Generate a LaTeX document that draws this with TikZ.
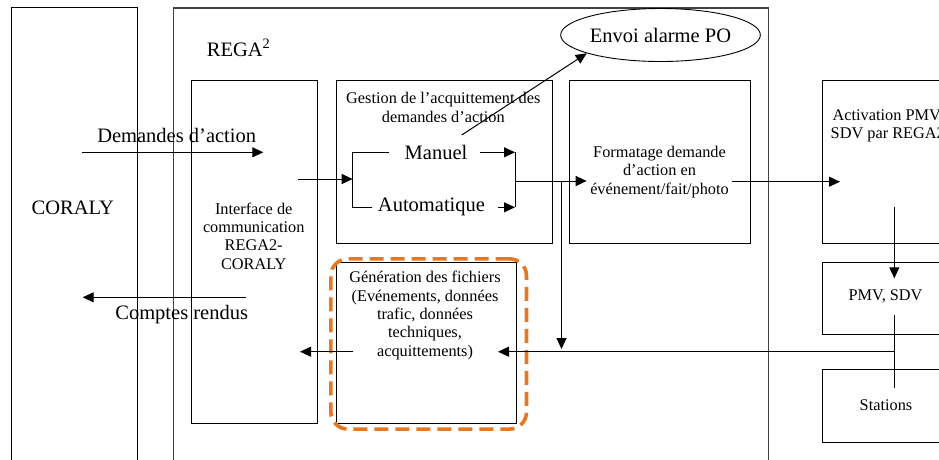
\documentclass[tikz,border=0pt]{standalone}
\usepackage{fontspec}
\setmainfont{Liberation Serif}
\usetikzlibrary{arrows.meta,shapes.geometric}
\definecolor{orangeline}{RGB}{232,119,34}
\begin{document}
\begin{tikzpicture}[x=1pt,y=-1pt,
  frame/.style={draw=black, line width=1pt, inner sep=0pt, anchor=north west},
  small/.style={font=\fontsize{16.3}{18.3}\selectfont, align=center, inner sep=0pt},
  big/.style={font=\fontsize{20.5}{24}\selectfont, inner sep=0pt},
  conn/.style={line width=1pt, -{Triangle[length=11pt,width=10pt]}},
  plain/.style={line width=1pt},
]
\useasboundingbox (0,0) rectangle (939,459);

% frames
\node[frame, minimum width=126pt, minimum height=480pt] (coralybox) at (10.7,7.3) {};
\node[frame, draw=black!75, line width=1.4pt, minimum width=595.3pt, minimum height=480pt] (regabox) at (172.7,7.3) {};
\node[frame, minimum width=126pt, minimum height=342.7pt] (interface) at (191,80) {};
\node[frame, minimum width=216.3pt, minimum height=162.7pt] (gestion) at (335.7,80) {};
\node[frame, minimum width=181pt, minimum height=162.7pt] (formatage) at (569,80) {};
\node[frame, minimum width=140pt, minimum height=162.7pt] (activation) at (822,80) {};
\node[frame, minimum width=140pt, minimum height=72pt] (pmv) at (822,261.7) {};
\node[frame, minimum width=140pt, minimum height=72.4pt] (stations) at (822,369.3) {};
\node[frame, minimum width=180pt, minimum height=161.6pt] (generation) at (335.7,261.7) {};
\node[draw=orangeline, line width=3.6pt, dash pattern=on 14pt off 7pt, rounded corners=17pt,
      inner sep=0pt, anchor=north west, minimum width=195.7pt, minimum height=170.3pt] (highlight) at (329,257) {};

% ellipse
\node[draw, ellipse, big, line width=0.9pt, minimum width=182pt, minimum height=53pt] (alarm) at (660.5,35) {Envoi alarme PO};

% texts
\node[big] (coralytxt) at (72.8,207.5) {CORALY};
\node[big, anchor=west] (regatxt) at (206.7,47.7) {REGA\textsuperscript{2}};
\node[big] (demtxt) at (176.7,135) {Demandes d’action};
\node[big] (crtxt) at (181.7,315) {Comptes rendus};
\node[small] (interfacetxt) at (253.7,236) {Interface de\\communication\\REGA2-\\CORALY};
\node[small] (gestiontxt) at (443.3,107.5) {Gestion de l’acquittement des\\demandes d’action};
\node[big] (manuel) at (436,152.3) {Manuel};
\node[big] (auto) at (431.5,207.3) {Automatique};
\node[small] (formatagetxt) at (659.5,172) {Formatage demande\\d’action en\\événement/fait/photo};
\node[small, anchor=west] (activationtxt) at (830.5,126) {Activation PMV,\\SDV par REGA2};
\node[small] (pmvtxt) at (885.5,296.7) {PMV, SDV};
\node[small] (stationstxt) at (886,405) {Stations};
\node[small] (generationtxt) at (425,315.5) {Génération des fichiers\\(Evénements, données\\trafic, données\\techniques,\\acquittements)};

% coordinates
\coordinate (da1) at (81.7,152.3);
\coordinate (da2) at (263.3,152.3);
\coordinate (cr1) at (246,297.3);
\coordinate (cr2) at (82.7,297.3);
\coordinate (if1) at (298,179);
\coordinate (brL) at (352.7,179);
\coordinate (brLt) at (352.7,152.3);
\coordinate (brLb) at (352.7,207.3);
\coordinate (manL) at (389,152.3);
\coordinate (autL) at (371.7,207.3);
\coordinate (manR) at (480,152.3);
\coordinate (autR) at (498,207.3);
\coordinate (brRt) at (515,152.3);
\coordinate (brRb) at (515,207.3);
\coordinate (brR) at (515,181);
\coordinate (fmtIn) at (586.7,181);
\coordinate (split) at (561.5,181);
\coordinate (splitEnd) at (561.5,349);
\coordinate (manTop) at (461.7,135);
\coordinate (alarmIn) at (586.7,53.3);
\coordinate (fmtOut) at (731.7,181.7);
\coordinate (actIn) at (840,181.7);
\coordinate (actOut) at (894.3,206.7);
\coordinate (pmvIn) at (894.3,278.3);
\coordinate (pmvOut) at (894.3,315);
\coordinate (stIn) at (894.3,388.3);
\coordinate (ret) at (894.3,351.7);
\coordinate (genIn) at (498,351.7);
\coordinate (genOut) at (353,351.7);
\coordinate (ifIn) at (300,351.7);

% connectors
\draw[conn] (da1) -- (da2);
\draw[conn] (cr1) -- (cr2);
\draw[conn] (if1) -- (brL);
\draw[plain] (manL) -- (brLt) -- (brLb) -- (autL);
\draw[conn] (manR) -- (brRt);
\draw[conn] (autR) -- (brRb);
\draw[plain] (brRt) -- (brRb);
\draw[conn] (brR) -- (fmtIn);
\draw[conn] (split) -- (splitEnd);
\draw[conn] (manTop) -- (alarmIn);
\draw[conn] (fmtOut) -- (actIn);
\draw[conn] (actOut) -- (pmvIn);
\draw[plain] (pmvOut) -- (stIn);
\draw[conn] (ret) -- (genIn);
\draw[conn] (genOut) -- (ifIn);
\end{tikzpicture}
\end{document}
